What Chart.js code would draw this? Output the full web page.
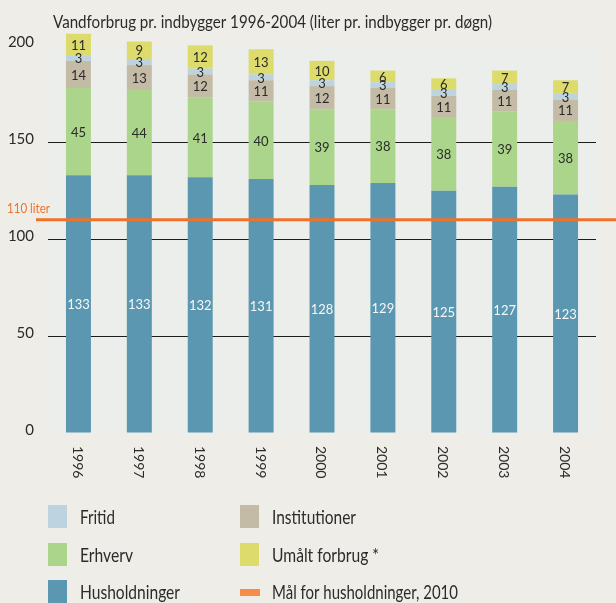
<!DOCTYPE html>
<html>
<head>
<meta charset="utf-8">
<script src="https://cdn.jsdelivr.net/npm/chart.js@4"></script>
<style>
  html, body { margin: 0; padding: 0; background: #efede8; }
  #wrap { width: 616px; height: 603px; }
</style>
</head>
<body>
<div id="wrap"><canvas id="grafVand" width="616" height="603"></canvas></div>
<script>
// data (liter pr. indbygger pr. døgn)
const aar = ['1996', '1997', '1998', '1999', '2000', '2001', '2002', '2003', '2004'];
const husholdninger = [133, 133, 132, 131, 128, 129, 125, 127, 123];
const erhverv = [45, 44, 41, 40, 39, 38, 38, 39, 38];
const institutioner = [14, 13, 12, 11, 12, 11, 11, 11, 11];
const fritid = [3, 3, 3, 3, 3, 3, 3, 3, 3];
const umaalt = [11, 9, 12, 13, 10, 6, 6, 7, 7];
const maal2010 = 110;
const yTicks = [0, 50, 100, 150, 200];

const FONT = 'Lato, "DejaVu Sans", sans-serif';
const TEKST = '#2b2b2b';
const ORANGE = '#f07228';

const farver = {
    husholdninger: '#5b97b0',
    erhverv: '#abd58a',
    institutioner: '#c4bba6',
    fritid: '#bdd4e0',
    umaalt: '#dcdb6b'
};

// text squeezed to the width it has in the original
function skrivTekst(ctx, tekst, x, y, bredde) {
    const w = ctx.measureText(tekst).width;
    const sx = bredde ? Math.min(1, bredde / w) : 1;
    ctx.save();
    ctx.translate(x, y);
    ctx.scale(sx, 1);
    ctx.fillText(tekst, 0, 0);
    ctx.restore();
}

const tegnPlugin = {
    id: 'tegn',
    beforeDraw(chart) {
        const { ctx, chartArea, scales } = chart;
        ctx.save();
        ctx.fillStyle = '#ebeeea';
        const top = scales.y.getPixelForValue(200);
        ctx.fillRect(chartArea.left, top, chartArea.right - chartArea.left + 1, chartArea.bottom - top);
        ctx.restore();
    },
    afterDatasetsDraw(chart) {
        const { ctx, scales } = chart;
        ctx.save();

        // tal i segmenterne
        ctx.font = '13px ' + FONT;
        ctx.textAlign = 'center';
        ctx.textBaseline = 'middle';
        chart.data.datasets.forEach((ds, di) => {
            const meta = chart.getDatasetMeta(di);
            meta.data.forEach((bar, i) => {
                ctx.fillStyle = di === 0 ? '#f4f8fa' : TEKST;
                ctx.fillText(String(ds.data[i]), bar.x, (bar.y + bar.base) / 2 + 1);
            });
        });

        // mål for husholdninger
        const yMaal = scales.y.getPixelForValue(maal2010);
        ctx.strokeStyle = ORANGE;
        ctx.lineWidth = 3;
        ctx.beginPath();
        ctx.moveTo(36, yMaal);
        ctx.lineTo(616, yMaal);
        ctx.stroke();
        ctx.fillStyle = ORANGE;
        ctx.font = '13px ' + FONT;
        ctx.textAlign = 'left';
        ctx.textBaseline = 'alphabetic';
        skrivTekst(ctx, maal2010 + ' liter', 7, yMaal - 7, 43);

        // årstal, roteret
        ctx.fillStyle = TEKST;
        ctx.font = '14px ' + FONT;
        ctx.textBaseline = 'middle';
        aar.forEach((a, i) => {
            const x = scales.x.getPixelForValue(i);
            ctx.save();
            ctx.translate(x - 1, 446);
            ctx.rotate(Math.PI / 2);
            ctx.fillText(a, 0, 0);
            ctx.restore();
        });

        // titel
        ctx.textBaseline = 'alphabetic';
        ctx.font = '18px ' + FONT;
        skrivTekst(ctx, 'Vandforbrug pr. indbygger 1996-2004 (liter pr. indbygger pr. døgn)', 53, 28, 439);

        // forklaring
        const poster = [
            { navn: 'Fritid', farve: farver.fritid, x: 48, y: 505, b: 35 },
            { navn: 'Erhverv', farve: farver.erhverv, x: 48, y: 543, b: 53 },
            { navn: 'Husholdninger', farve: farver.husholdninger, x: 48, y: 580, b: 100 },
            { navn: 'Institutioner', farve: farver.institutioner, x: 240, y: 505, b: 84 },
            { navn: 'Umålt forbrug *', farve: farver.umaalt, x: 240, y: 543, b: 107 },
            { navn: 'Mål for husholdninger, 2010', farve: '#f58c4a', x: 240, y: 580, b: 186, linje: true }
        ];
        ctx.font = '19px ' + FONT;
        poster.forEach(p => {
            ctx.fillStyle = p.farve;
            if (p.linje) ctx.fillRect(p.x, p.y + 9, 20, 7);
            else ctx.fillRect(p.x, p.y, 19, 23);
            ctx.fillStyle = TEKST;
            skrivTekst(ctx, p.navn, p.x + 32, p.y + 18.5, p.b);
        });

        ctx.restore();
    }
};

new Chart(document.getElementById('grafVand'), {
    type: 'bar',
    data: {
        labels: aar,
        datasets: [
            { label: 'Husholdninger', data: husholdninger, backgroundColor: farver.husholdninger },
            { label: 'Erhverv', data: erhverv, backgroundColor: farver.erhverv },
            { label: 'Institutioner', data: institutioner, backgroundColor: farver.institutioner },
            { label: 'Fritid', data: fritid, backgroundColor: farver.fritid },
            { label: 'Umålt forbrug *', data: umaalt, backgroundColor: farver.umaalt }
        ]
    },
    options: {
        responsive: false,
        animation: false,
        layout: { padding: { top: 26, right: 20, left: 0, bottom: 0 } },
        datasets: { bar: { barPercentage: 0.41, categoryPercentage: 1, borderWidth: 0 } },
        plugins: {
            legend: { display: false },
            title: { display: false },
            tooltip: { enabled: false }
        },
        scales: {
            x: {
                stacked: true,
                grid: { display: false },
                border: { display: false },
                ticks: { display: false },
                afterFit: s => { s.height = 170; }
            },
            y: {
                stacked: true,
                min: 0,
                max: 210,
                afterBuildTicks: s => { s.ticks = yTicks.map(v => ({ value: v })); },
                afterFit: s => { s.width = 48; },
                border: { display: false },
                grid: {
                    drawTicks: false,
                    color: c => (c.tick && c.tick.value > 0 && c.tick.value < 200) ? '#1c1c1c' : 'rgba(0,0,0,0)'
                },
                ticks: {
                    padding: 14,
                    labelOffset: -3,
                    color: TEKST,
                    font: { family: FONT, size: 15 }
                }
            }
        }
    },
    plugins: [tegnPlugin]
});
</script>
</body>
</html>
